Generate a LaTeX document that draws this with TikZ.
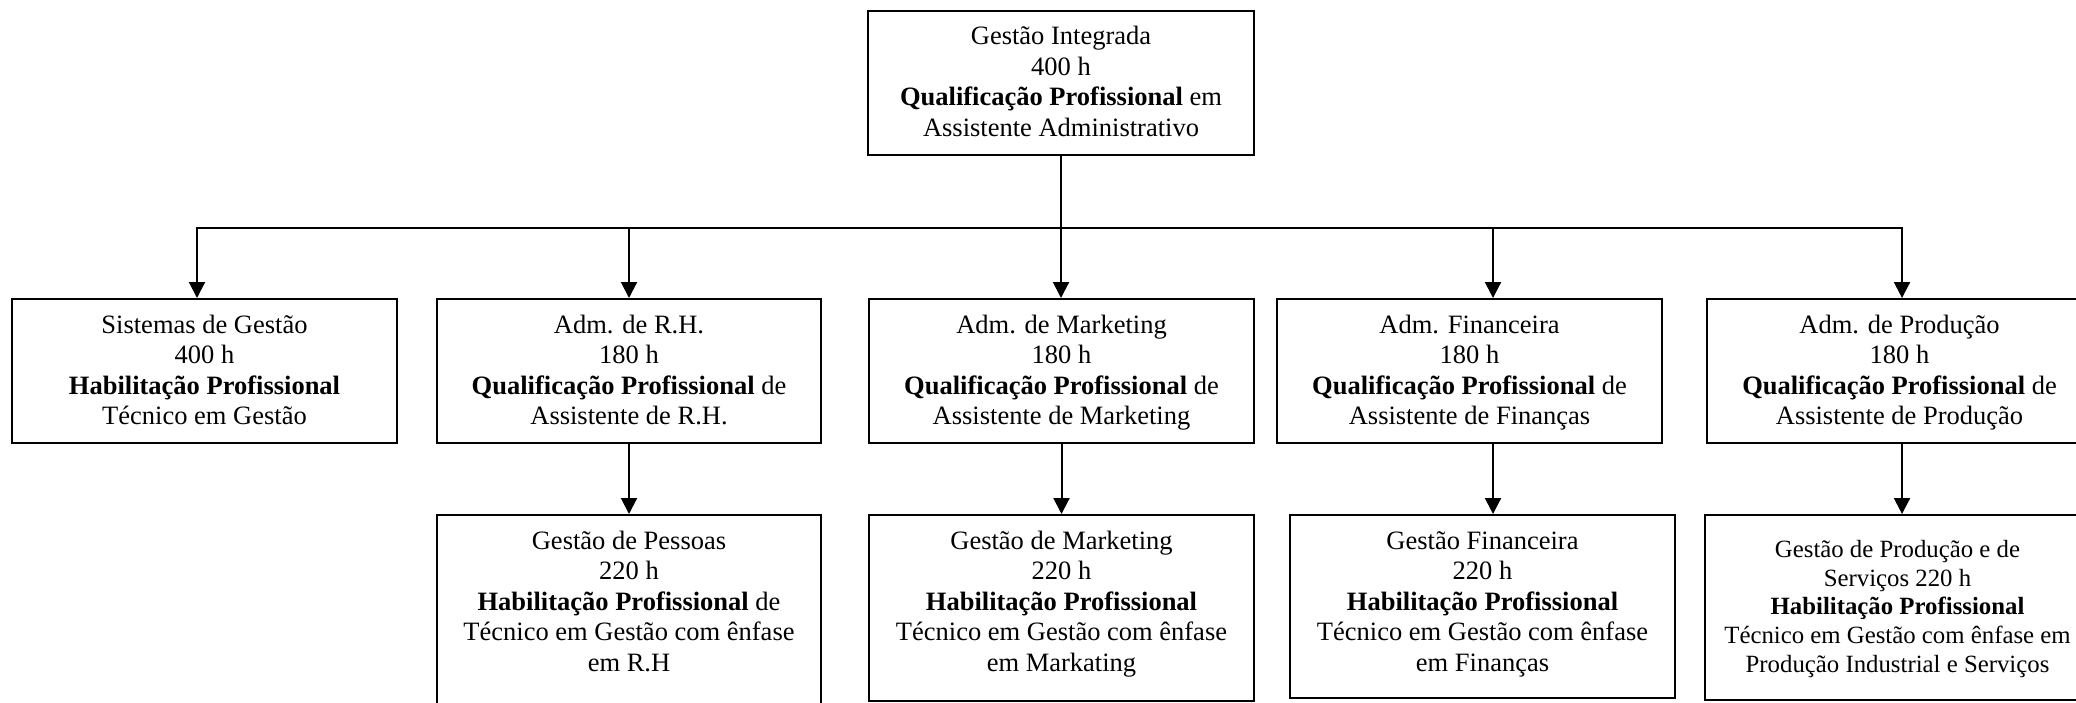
\documentclass[tikz,border=0pt]{standalone}
\usepackage{fontspec}
\setmainfont{Liberation Serif}
\usetikzlibrary{arrows.meta}
\newcommand\boxcontent[4]{\begin{minipage}[c][#2][t]{#1}\centering\vspace*{#3}\strut #4\end{minipage}}
\tikzset{
  boxnode/.style={draw, line width=1pt, inner sep=0pt, rectangle, font={\fontsize{13.25}{15.25}\selectfont}},
  smallbox/.style={boxnode, font={\fontsize{12.4}{14.3}\selectfont}},
  conn/.style={line width=1pt},
  arr/.style={conn, -{Triangle[width=8pt,length=8pt]}}
}
\begin{document}
\begin{tikzpicture}[x=0.5pt,y=-0.5pt]
\useasboundingbox (0,0) rectangle (2076,702);
\fill[white] (0,0) rectangle (2076,702);
\clip (0,0) rectangle (2076,702);
% top
\node[boxnode] (top) at (1061,83) {\boxcontent{193pt}{72pt}{6.2pt}{Gestão Integrada\\ 400 h\\ \textbf{Qualificação Profissional} em\\ Assistente Administrativo}};
% row 2
\node[boxnode] (sis) at (204.5,371) {\boxcontent{192.5pt}{72pt}{6.4pt}{Sistemas de Gestão\\ 400 h\\ \textbf{Habilitação Profissional}\\ Técnico em Gestão}};
\node[boxnode] (rh) at (629,371) {\boxcontent{192pt}{72pt}{6.4pt}{Adm. de R.H.\\ 180 h\\ \textbf{Qualificação Profissional} de\\ Assistente de R.H.}};
\node[boxnode] (mkt) at (1061.5,371) {\boxcontent{192.5pt}{72pt}{6.4pt}{Adm. de Marketing\\ 180 h\\ \textbf{Qualificação Profissional} de\\ Assistente de Marketing}};
\node[boxnode] (fin) at (1469.5,371) {\boxcontent{192.5pt}{72pt}{6.4pt}{Adm. Financeira\\ 180 h\\ \textbf{Qualificação Profissional} de\\ Assistente de Finanças}};
\node[boxnode] (prd) at (1899.5,371) {\boxcontent{192.5pt}{72pt}{6.4pt}{Adm. de Produção\\ 180 h\\ \textbf{Qualificação Profissional} de\\ Assistente de Produção}};
% row 3
\node[boxnode] (pes) at (629,613.5) {\boxcontent{192pt}{98.5pt}{6.4pt}{Gestão de Pessoas\\ 220 h\\ \textbf{Habilitação Profissional} de\\ Técnico em Gestão com ênfase\\ em R.H}};
\node[boxnode] (mk2) at (1061.5,608) {\boxcontent{192.5pt}{93pt}{6.4pt}{Gestão de Marketing\\ 220 h\\ \textbf{Habilitação Profissional}\\ Técnico em Gestão com ênfase\\ em Markating}};
\node[boxnode] (fi2) at (1482.5,606.5) {\boxcontent{192.5pt}{91.5pt}{6.4pt}{Gestão Financeira\\ 220 h\\ \textbf{Habilitação Profissional}\\ Técnico em Gestão com ênfase\\ em Finanças}};
\node[smallbox] (pr2) at (1897.5,607.5) {\boxcontent{192.5pt}{92.5pt}{11.3pt}{Gestão de Produção e de\\ Serviços 220 h\\ \textbf{Habilitação Profissional}\\ Técnico em Gestão com ênfase em\\ Produção Industrial e Serviços}};
% bus
\coordinate (b1) at (197,228);
\coordinate (b2) at (629,228);
\coordinate (b4) at (1493,228);
\coordinate (b5) at (1902,228);
\draw[conn] (top.south) -- (top.south |- b1);
\draw[arr] (top.south |- b1) -- (b1) -- (b1 |- sis.north);
\draw[arr] (top.south |- b1) -- (b5) -- (b5 |- prd.north);
\draw[arr] (b2) -- (b2 |- rh.north);
\draw[arr] (top.south |- b1) -- (top.south |- mkt.north);
\draw[arr] (b4) -- (b4 |- fin.north);
% row 2 to row 3
\draw[arr] (b2 |- rh.south) -- (b2 |- pes.north);
\draw[arr] (mkt.south) -- (mkt.south |- mk2.north);
\draw[arr] (b4 |- fin.south) -- (b4 |- fi2.north);
\draw[arr] (b5 |- prd.south) -- (b5 |- pr2.north);
\end{tikzpicture}
\end{document}
